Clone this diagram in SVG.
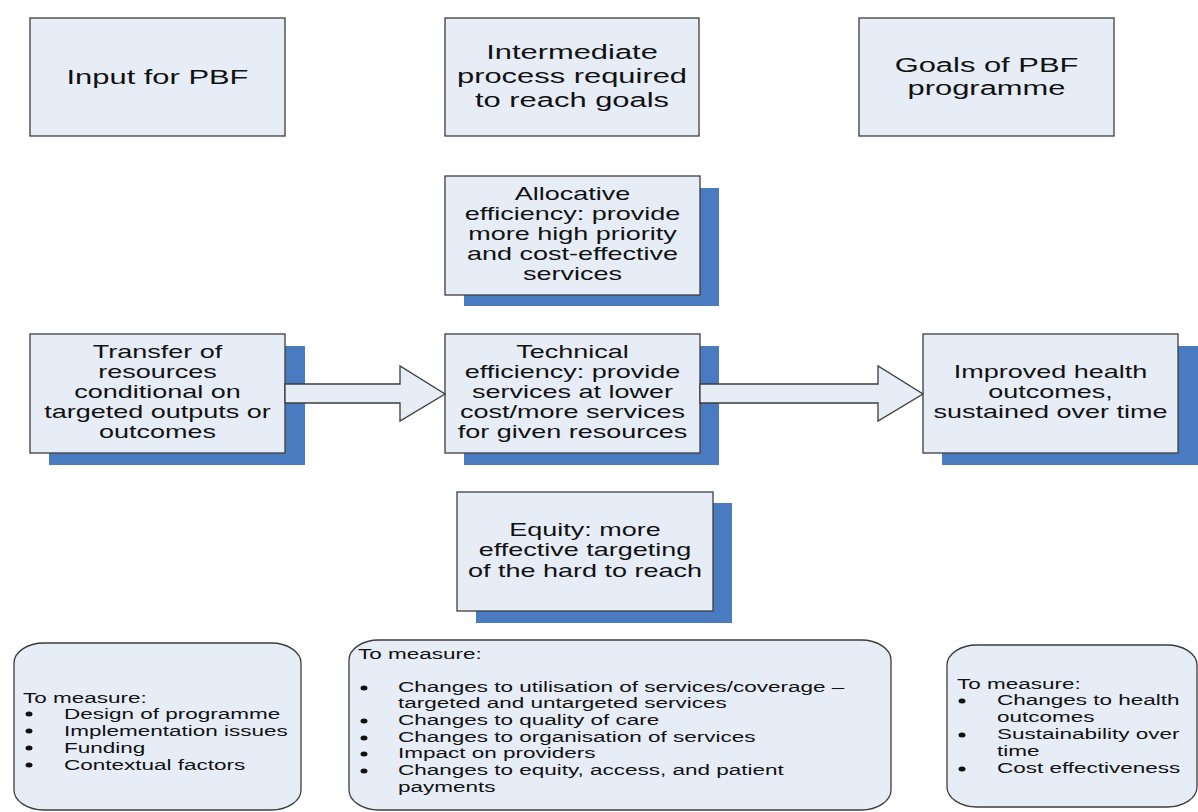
<svg xmlns="http://www.w3.org/2000/svg" width="1198" height="812" viewBox="0 0 1198 812">
<style>
.box{fill:#E7EDF7;stroke:#3C3C3C;stroke-width:1.3}
.shadow{fill:#4A7BC1}
.arrow{fill:#E7EDF7;stroke:#3C3C3C;stroke-width:1.3;stroke-linejoin:miter}
.t{font-family:"Liberation Sans",Arial,sans-serif;fill:#111}
.c{text-anchor:middle}
.big{font-size:20.6px}
.mid{font-size:18px}
.sm{font-size:15px}
.dot{fill:#111}
</style>
<rect width="1198" height="812" fill="#FFFFFF"/>

<g id="node-input">
<rect class="box" x="30" y="18" width="255" height="118"/>
<text class="t c big" transform="matrix(1.5 0 0 1 157.5 0)"><tspan x="0" y="84">Input for PBF</tspan></text>
</g>

<g id="node-intermediate">
<rect class="box" x="445" y="18" width="254" height="118"/>
<text class="t c big" transform="matrix(1.5 0 0 1 572 0)"><tspan x="0" y="59">Intermediate</tspan><tspan x="0" y="83">process required</tspan><tspan x="0" y="107">to reach goals</tspan></text>
</g>

<g id="node-goals">
<rect class="box" x="859" y="18" width="255" height="118"/>
<text class="t c big" transform="matrix(1.5 0 0 1 986.5 0)"><tspan x="0" y="72">Goals of PBF</tspan><tspan x="0" y="95">programme</tspan></text>
</g>

<g id="node-allocative">
<rect class="shadow" x="464" y="188" width="255" height="118"/>
<rect class="box" x="445" y="176" width="255" height="119"/>
<text class="t c mid" transform="matrix(1.5 0 0 1 572.5 0)"><tspan x="0" y="200">Allocative</tspan><tspan x="0" y="220">efficiency: provide</tspan><tspan x="0" y="240">more high priority</tspan><tspan x="0" y="260">and cost-effective</tspan><tspan x="0" y="280">services</tspan></text>
</g>

<g id="node-transfer">
<rect class="shadow" x="49" y="346" width="256" height="119"/>
<rect class="box" x="30" y="334" width="255" height="119"/>
<text class="t c mid" transform="matrix(1.5 0 0 1 157.5 0)"><tspan x="0" y="358">Transfer of</tspan><tspan x="0" y="378">resources</tspan><tspan x="0" y="398">conditional on</tspan><tspan x="0" y="418">targeted outputs or</tspan><tspan x="0" y="438">outcomes</tspan></text>
</g>

<g id="node-technical">
<rect class="shadow" x="464" y="346" width="255" height="119"/>
<rect class="box" x="445" y="334" width="255" height="119"/>
<text class="t c mid" transform="matrix(1.5 0 0 1 572.5 0)"><tspan x="0" y="358">Technical</tspan><tspan x="0" y="378">efficiency: provide</tspan><tspan x="0" y="398">services at lower</tspan><tspan x="0" y="418">cost/more services</tspan><tspan x="0" y="438">for given resources</tspan></text>
</g>

<g id="node-improved">
<rect class="shadow" x="942" y="346" width="256" height="119"/>
<rect class="box" x="923" y="334" width="255" height="119"/>
<text class="t c mid" transform="matrix(1.5 0 0 1 1050.5 0)"><tspan x="0" y="378">Improved health</tspan><tspan x="0" y="398">outcomes,</tspan><tspan x="0" y="418">sustained over time</tspan></text>
</g>

<g id="node-equity">
<rect class="shadow" x="476" y="503" width="256" height="120"/>
<rect class="box" x="457" y="492" width="256" height="119"/>
<text class="t c mid" transform="matrix(1.5 0 0 1 585 0)"><tspan x="0" y="536">Equity: more</tspan><tspan x="0" y="556">effective targeting</tspan><tspan x="0" y="577">of the hard to reach</tspan></text>
</g>

<g id="node-measure-input">
<rect class="box" x="14" y="643" width="287" height="167" rx="30" ry="20"/>
<text class="t sm" transform="matrix(1.5 0 0 1 23 0)"><tspan x="0" y="703">To measure:</tspan></text>
<ellipse class="dot" cx="29" cy="714" rx="3.5" ry="2.5"/>
<ellipse class="dot" cx="29" cy="731" rx="3.5" ry="2.5"/>
<ellipse class="dot" cx="29" cy="748" rx="3.5" ry="2.5"/>
<ellipse class="dot" cx="29" cy="765" rx="3.5" ry="2.5"/>
<text class="t sm" transform="matrix(1.5 0 0 1 64 0)"><tspan x="0" y="719">Design of programme</tspan><tspan x="0" y="736">Implementation issues</tspan><tspan x="0" y="753">Funding</tspan><tspan x="0" y="770">Contextual factors</tspan></text>
</g>

<g id="node-measure-process">
<rect class="box" x="349" y="640" width="542" height="170" rx="30" ry="20"/>
<text class="t sm" transform="matrix(1.5 0 0 1 358 0)"><tspan x="0" y="659">To measure:</tspan></text>
<ellipse class="dot" cx="364" cy="688" rx="3.5" ry="2.5"/>
<ellipse class="dot" cx="364" cy="721" rx="3.5" ry="2.5"/>
<ellipse class="dot" cx="364" cy="738" rx="3.5" ry="2.5"/>
<ellipse class="dot" cx="364" cy="754" rx="3.5" ry="2.5"/>
<ellipse class="dot" cx="364" cy="771" rx="3.5" ry="2.5"/>
<text class="t sm" transform="matrix(1.5 0 0 1 398 0)"><tspan x="0" y="692">Changes to utilisation of services/coverage –</tspan><tspan x="0" y="708">targeted and untargeted services</tspan><tspan x="0" y="725">Changes to quality of care</tspan><tspan x="0" y="742">Changes to organisation of services</tspan><tspan x="0" y="758">Impact on providers</tspan><tspan x="0" y="775">Changes to equity, access, and patient</tspan><tspan x="0" y="792">payments</tspan></text>
</g>

<g id="node-measure-goals">
<rect class="box" x="947" y="645" width="250" height="162" rx="30" ry="20"/>
<text class="t sm" transform="matrix(1.5 0 0 1 957 0)"><tspan x="0" y="689">To measure:</tspan></text>
<ellipse class="dot" cx="962" cy="701" rx="3.5" ry="2.5"/>
<ellipse class="dot" cx="962" cy="735" rx="3.5" ry="2.5"/>
<ellipse class="dot" cx="962" cy="769" rx="3.5" ry="2.5"/>
<text class="t sm" transform="matrix(1.5 0 0 1 997 0)"><tspan x="0" y="705">Changes to health</tspan><tspan x="0" y="722">outcomes</tspan><tspan x="0" y="739">Sustainability over</tspan><tspan x="0" y="756">time</tspan><tspan x="0" y="773">Cost effectiveness</tspan></text>
</g>

<g id="connectors">
<polygon class="arrow" points="285,384 400,384 400,366 445,394 400,421 400,403 285,403"/>
<polygon class="arrow" points="700,384 878,384 878,366 923,394 878,421 878,403 700,403"/>
</g>
</svg>
